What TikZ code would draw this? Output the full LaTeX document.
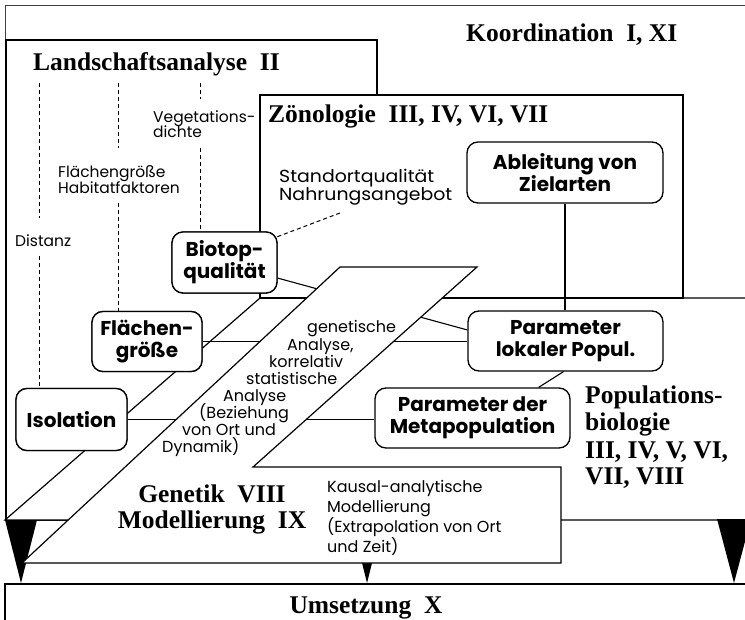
\documentclass[tikz,border=0pt]{standalone}
\usepackage{fontspec}
\setmainfont{Liberation Serif}
\newfontfamily\gf{Poppins}
\newfontfamily\gfw[FakeStretch=1.08]{Poppins}
\usetikzlibrary{calc}
\tikzset{
  area/.style={draw, line width=1.2pt, fill=white, line join=miter},
  nd/.style={draw, line width=1.3pt, fill=white, rounded corners=11pt, align=center,
    font=\gf\bfseries\fontsize{20}{22}\selectfont, inner sep=0pt},
  lbl/.style={font=\gf\fontsize{15.5}{16}\selectfont, inner sep=0pt, anchor=base west},
  blbl/.style={lbl, font=\gf\fontsize{16}{16}\selectfont},
  slbl/.style={lbl, font=\gfw\fontsize{17.5}{17.5}\selectfont},
  head/.style={font=\bfseries\fontsize{25.5}{26}\selectfont, inner sep=0pt, anchor=base west},
  headc/.style={head, anchor=base},
  dsh/.style={line width=1pt, dash pattern=on 4pt off 3pt},
  con/.style={line width=1.1pt},
  tri/.style={fill=black, draw=none},
}
\begin{document}
\begin{tikzpicture}[x=1pt,y=-1pt]
\useasboundingbox (0,0) rectangle (745,620);
\clip (0,0) rectangle (745,620);
% Koordination (outer frame)
\draw[line width=0.7pt, black!75] (5,40) -- (5,5) -- (780,5);
% Landschaftsanalyse
\draw[area] (6,40) rectangle (377,520);
% Populationsbiologie
\draw[area] (260,298) -- (780,298) -- (780,520) -- (5,520) -- cycle;
% Zoenologie
\draw[area] (260,95) rectangle (683,298);

% nodes
\node[nd, minimum width=105pt, minimum height=61pt] (bio) at (224.5,262.5) {Biotop-\\qualität};
\node[nd, minimum width=110pt, minimum height=60pt] (fla) at (147,341.5) {Flächen-\\größe};
\node[nd, minimum width=111pt, minimum height=62pt] (iso) at (71.5,419.5) {Isolation};
\node[nd, minimum width=196pt, minimum height=61pt] (abl) at (565,172.5) {Ableitung von\\Zielarten};
\node[nd, minimum width=195pt, minimum height=60pt] (lok) at (565.5,341) {Parameter\\lokaler Popul.};
\node[nd, minimum width=195pt, minimum height=60pt] (meta) at (472.5,418) {Parameter der\\Metapopulation};

% connectors (partly hidden by the band)
\draw[con] ($(bio.south east)!0.25!(bio.north east)$) -- ($(lok.south west)!0.68!(lok.north west)$);
\draw[con] (fla.east) -- (fla.east -| lok.west);
\draw[con] (iso.east) -- (iso.east -| meta.west);
\draw[con] (abl.south) -- (abl.south |- lok.north);
\draw[con] ($(lok.south)+(-2,0)$) -- ($(meta.north east)+(-32,0)$);

% labels and dashed lines in Landschaftsanalyse
\node[lbl] (dist) at (15,247) {Distanz};
\node[lbl] (flg) at (58,178) {Flächengröße};
\node[lbl] (hab) at (58,194) {Habitatfaktoren};
\node[lbl] (veg) at (153,123) {Vegetations-};
\node[lbl] (dic) at (153,138) {dichte};
\node[slbl] (sto) at (279,183) {Standortqualität};
\node[slbl] (nah) at (279,201) {Nahrungsangebot};
\coordinate (t1) at (39,83);
\coordinate (t2) at (118,83);
\coordinate (t3) at (200,83);
\coordinate (sd) at (340,213);
\draw[dsh] (t1) -- (39,218);
\draw[dsh] (39,256) -- (iso.north -| t1);
\draw[dsh] (t2) -- (118,148);
\draw[dsh] (118,203) -- (fla.north -| t2);
\draw[dsh] (t3) -- (200,99);
\draw[dsh] (200,148) -- (bio.north -| t3);
\draw[dsh] (sd) -- ($(bio.north east)+(-2,6)$);

% black triangles
\fill[tri] (5,520) -- (37,520) -- (21,583) -- cycle;
\fill[tri] (717,519) -- (751,519) -- (734,583) -- cycle;
\fill[tri] (362,563) -- (372,563) -- (367,583) -- cycle;

% Genetik / Modellierung band
\draw[area] (22,563) -- (340,267) -- (477,267) -- (253,467) -- (561,467) -- (561,563) -- cycle;

% redraw nodes that overlap the band region
\node[nd, minimum width=105pt, minimum height=61pt] at (bio) {Biotop-\\qualität};
\node[nd, minimum width=110pt, minimum height=60pt] at (fla) {Flächen-\\größe};
\node[nd, minimum width=111pt, minimum height=62pt] at (iso) {Isolation};

% Umsetzung
\draw[area] (5,584) rectangle (780,660);

% headings
\node[head] (koord) at (466,42) {Koordination\hspace{0.5em}I, XI};
\node[head] (land) at (33,71) {Landschaftsanalyse\hspace{0.5em}II};
\node[head] (zoen) at (268,123) {Zönologie\hspace{0.5em}III, IV, VI, VII};
\node[head] (pop1) at (585,404) {Populations-};
\node[head] (pop2) at (585,431) {biologie};
\node[head] (pop3) at (585,458) {III, IV, V, VI,};
\node[head] (pop4) at (585,484) {VII, VIII};
\node[headc] (gen) at (212,502) {Genetik\hspace{0.5em}VIII};
\node[headc] (mod) at (212,528) {Modellierung\hspace{0.5em}IX};
\node[headc] (ums) at (366,613) {Umsetzung\hspace{0.5em}X};

% band text
\node[blbl] (b1) at (307,333) {genetische};
\node[blbl] (b2) at (287,351) {Analyse,};
\node[blbl] (b3) at (269,368) {korrelativ};
\node[blbl] (b4) at (246,385) {statistische};
\node[blbl] (b5) at (223,402) {Analyse};
\node[blbl] (b6) at (199,419) {(Beziehung};
\node[blbl] (b7) at (182,436) {von Ort und};
\node[blbl] (b8) at (162,453) {Dynamik)};

% Kausal text
\node[blbl] (k1) at (327,493) {Kausal-analytische};
\node[blbl] (k2) at (327,512) {Modellierung};
\node[blbl] (k3) at (327,532) {(Extrapolation von Ort};
\node[blbl] (k4) at (327,552) {und Zeit)};
\end{tikzpicture}
\end{document}
